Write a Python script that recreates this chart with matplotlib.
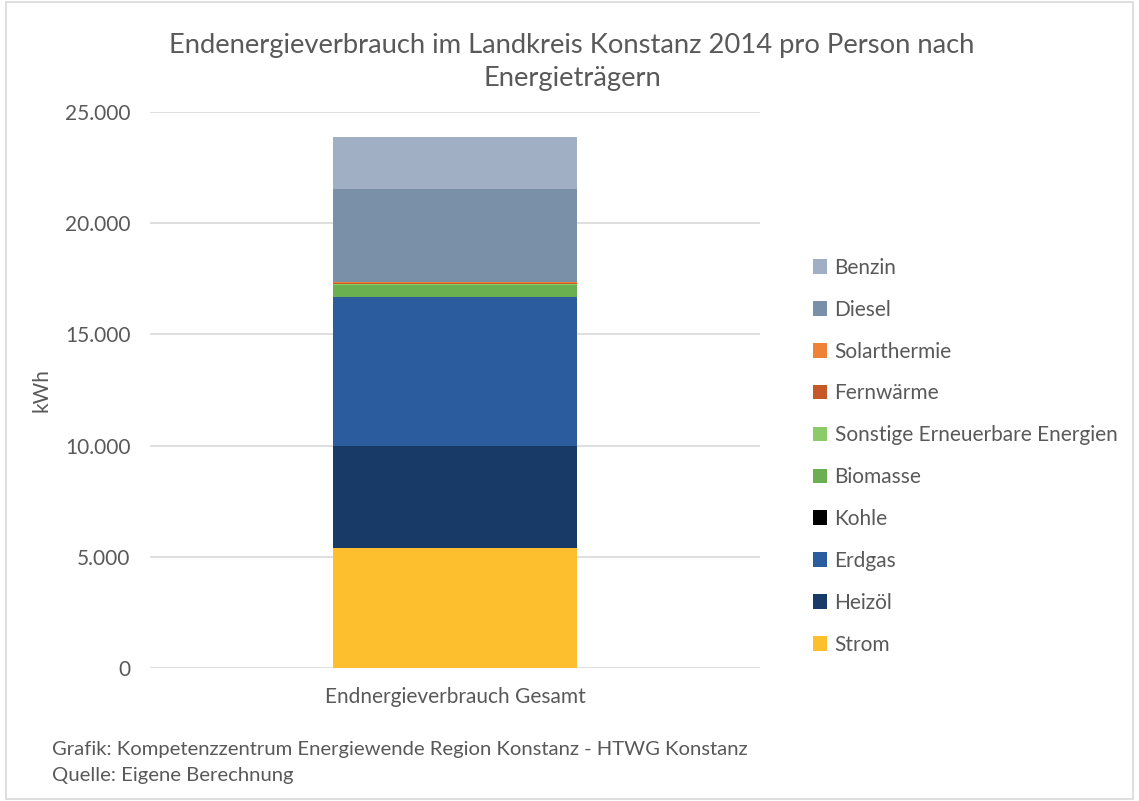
import matplotlib
matplotlib.use("Agg")
import matplotlib.pyplot as plt
from matplotlib.patches import Rectangle
from matplotlib.ticker import FuncFormatter

plt.rcParams['font.family'] = ['Lato', 'DejaVu Sans']

category = "Endnergieverbrauch Gesamt"
carriers = ["Strom", "Heizöl", "Erdgas", "Kohle", "Biomasse",
            "Sonstige Erneuerbare Energien", "Fernwärme", "Solarthermie",
            "Diesel", "Benzin"]
values = [5410, 4590, 6680, 20, 540, 20, 30, 80, 4160, 2330]
colors = ["#FDBF2D", "#173B66", "#2A5C9E", "#000000", "#6AAF50",
          "#8CCB6A", "#C55A28", "#EE8236", "#7A90A8", "#A0AFC3"]
yticks = [0, 5000, 10000, 15000, 20000, 25000]

TXT = "#595959"
fig = plt.figure(figsize=(11.39, 8.01), dpi=100)
ax = fig.add_axes([150/1139, 1-668/801, 610/1139, (668-112)/801])

bottom = 0
handles = []
for name, v, c in zip(carriers, values, colors):
    b = ax.bar([category], [v], bottom=bottom, width=0.4, color=c, label=name, zorder=3)
    handles.append(b)
    bottom += v

ax.set_ylim(0, 25000)
ax.set_xlim(-0.5, 0.5)
ax.set_yticks(yticks)
ax.yaxis.set_major_formatter(FuncFormatter(lambda x, p: f"{int(x):,}".replace(",", ".")))
ax.grid(axis='y', color="#D9D9D9", linewidth=1.2, zorder=0)
for s in ax.spines.values():
    s.set_visible(False)
ax.tick_params(axis='both', length=0, colors=TXT, labelsize=15, pad=14)
ax.tick_params(axis='x', pad=14)
ax.set_ylabel("kWh", color=TXT, fontsize=15, labelpad=10)

fig.text(572/1139, 1-62/801, "Endenergieverbrauch im Landkreis Konstanz 2014 pro Person nach\nEnergieträgern",
         ha='center', va='center', fontsize=19.7, color=TXT, linespacing=1.38)

leg = fig.legend(handles[::-1], carriers[::-1], loc='upper left',
                 bbox_to_anchor=(794/1139, 1-239/801), frameon=False,
                 fontsize=15, labelcolor=TXT, handlelength=0.7, handleheight=0.7,
                 handletextpad=0.35, labelspacing=1.05)

fig.text(52/1139, 1-749/801, "Grafik: Kompetenzzentrum Energiewende Region Konstanz - HTWG Konstanz",
         ha='left', va='center', fontsize=14.6, color=TXT)
fig.text(52/1139, 1-776/801, "Quelle: Eigene Berechnung",
         ha='left', va='center', fontsize=14.6, color=TXT)

fig.patches.append(Rectangle((6/1139, 2/801), 1-12/1139, 1-4/801, transform=fig.transFigure,
                             fill=False, edgecolor="#D9D9D9", linewidth=1.2))

fig.savefig("out.png", dpi=100)
